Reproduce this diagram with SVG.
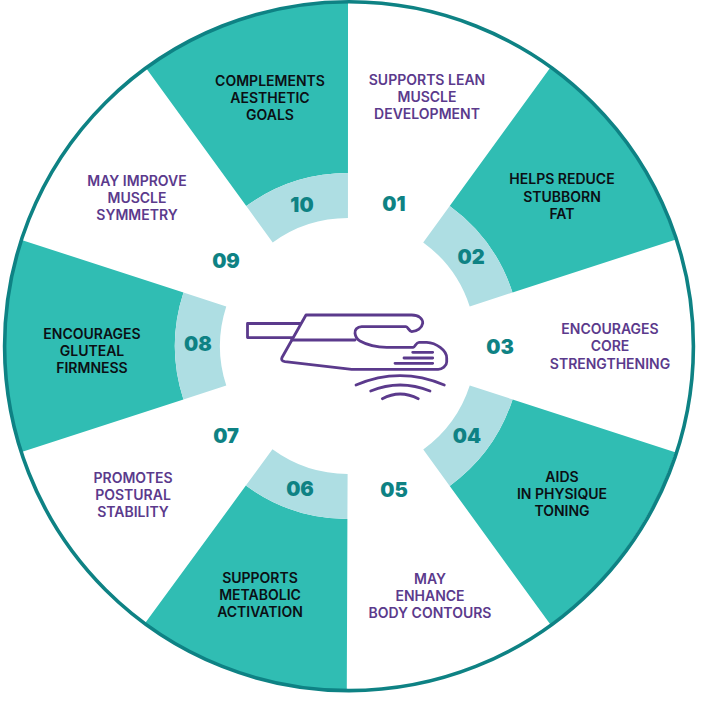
<svg xmlns="http://www.w3.org/2000/svg" width="701" height="701" viewBox="0 0 701 701">
<style>
.dark{fill:#30BDB3}
.light{fill:#AEDEE3}
.num{font-family:"Inter","Liberation Sans",sans-serif;font-weight:900;font-size:20px;fill:#0E8284;text-anchor:middle}
.lab{font-family:"Inter","Liberation Sans",sans-serif;font-weight:600;font-size:14px;text-anchor:middle}
.p{fill:#5B3A8C}
.k{fill:#0B0F14}
.ic{fill:none;stroke:#5B3A8C;stroke-width:2.8;stroke-linecap:round;stroke-linejoin:round}
</style>
<defs>
<path id="d" d="M449.7 206L550.2 67.7A344 344 0 0 1 675.2 239.7L512.5 292.5A173 173 0 0 0 449.7 206Z"/>
<path id="l" d="M423.2 242.4L449.7 206A173 173 0 0 1 512.5 292.5L469.7 306.4A128 128 0 0 0 423.2 242.4Z"/>
</defs>
<rect width="701" height="701" fill="#fff"/>
<g id="node-01"><text class="num" x="394" y="211">01</text><text class="lab p" x="427" y="85">SUPPORTS LEAN</text><text class="lab p" x="427" y="102">MUSCLE</text><text class="lab p" x="427" y="119">DEVELOPMENT</text></g>
<g id="node-02"><use href="#d" class="dark"/><use href="#l" class="light"/><text class="num" x="471" y="264">02</text><text class="lab k" x="562" y="184">HELPS REDUCE</text><text class="lab k" x="562" y="202">STUBBORN</text><text class="lab k" x="562" y="219">FAT</text></g>
<g id="node-03"><text class="num" x="500" y="354">03</text><text class="lab p" x="610" y="334">ENCOURAGES</text><text class="lab p" x="610" y="351">CORE</text><text class="lab p" x="610" y="369">STRENGTHENING</text></g>
<g id="node-04"><use href="#d" class="dark" transform="rotate(72 348 346)"/><use href="#l" class="light" transform="rotate(72 348 346)"/><text class="num" x="467" y="443">04</text><text class="lab k" x="562" y="482">AIDS</text><text class="lab k" x="562" y="499">IN PHYSIQUE</text><text class="lab k" x="562" y="516">TONING</text></g>
<g id="node-05"><text class="num" x="394" y="497">05</text><text class="lab p" x="430" y="584">MAY</text><text class="lab p" x="430" y="601">ENHANCE</text><text class="lab p" x="430" y="618">BODY CONTOURS</text></g>
<g id="node-06"><use href="#d" class="dark" transform="rotate(144.2 348 346)"/><use href="#l" class="light" transform="rotate(144.2 348 346)"/><text class="num" x="300" y="496">06</text><text class="lab k" x="260" y="583">SUPPORTS</text><text class="lab k" x="260" y="600">METABOLIC</text><text class="lab k" x="260" y="617">ACTIVATION</text></g>
<g id="node-07"><text class="num" x="226" y="443">07</text><text class="lab p" x="133" y="483">PROMOTES</text><text class="lab p" x="133" y="500">POSTURAL</text><text class="lab p" x="133" y="517">STABILITY</text></g>
<g id="node-08"><use href="#d" class="dark" transform="rotate(216 348 346)"/><use href="#l" class="light" transform="rotate(216 348 346)"/><text class="num" x="198" y="351">08</text><text class="lab k" x="92" y="339">ENCOURAGES</text><text class="lab k" x="92" y="356">GLUTEAL</text><text class="lab k" x="92" y="373">FIRMNESS</text></g>
<g id="node-09"><text class="num" x="226" y="268">09</text><text class="lab p" x="137" y="186">MAY IMPROVE</text><text class="lab p" x="137" y="203">MUSCLE</text><text class="lab p" x="137" y="220">SYMMETRY</text></g>
<g id="node-10"><use href="#d" class="dark" transform="rotate(288 348 346)"/><use href="#l" class="light" transform="rotate(288 348 346)"/><text class="num" x="302" y="212">10</text><text class="lab k" x="270" y="86">COMPLEMENTS</text><text class="lab k" x="270" y="103">AESTHETIC</text><text class="lab k" x="270" y="120">GOALS</text></g>
<g id="connectors"><circle cx="349" cy="346.2" r="344.4" fill="none" stroke="#0E8284" stroke-width="3.6"/></g>
<g id="icon" class="ic">
<path d="M300 323.5H247.5V337.6H292"/>
<path d="M306 315H411.7C419 315 423 319 422.7 323.3C422 328 417 331.5 411.7 331.7C409 331.5 408 326.7 406 326.7H361.7C357 326.7 354.5 330 355 333.3C355.5 337 357 339.5 360 341C368 345.5 378 347.3 386.7 347.3H413.3C415 347.3 416 342.3 419 342.3H426.7C436 342.8 446.7 350 446.7 358V362C446.7 366 442 369.3 438.3 369.3H351.7L285 361.7C282 361.2 281 359.5 282 357.5L306 315Z"/>
<path d="M291.7 340H355"/>
<path d="M412.7 352.3H432.7M404 358H432.7M395 363.3H432.7"/>
<path d="M356 385Q400 366.3 444.3 385M370.7 391Q400 379 430 391M382.3 398.7Q400 389.3 418.3 398.7"/>
</g>
</svg>
